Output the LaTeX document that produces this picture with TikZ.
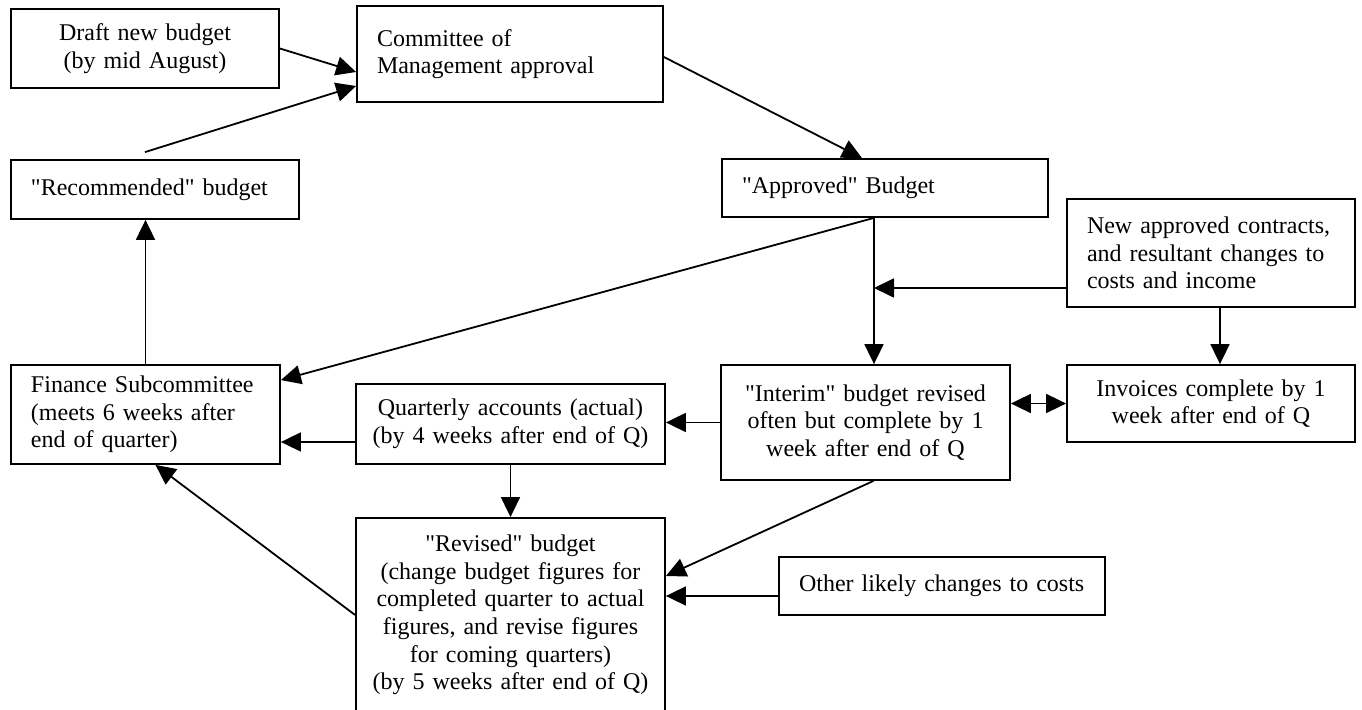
\documentclass[tikz,border=0pt]{standalone}
\usepackage{fontspec}
\setmainfont{Liberation Serif}
\usetikzlibrary{arrows.meta,calc}

\begin{document}
\begin{tikzpicture}[x=0.5pt, y=-0.5pt,
        box/.style={draw, line width=0.9pt, inner ysep=2pt, font=\fontsize{12pt}{13.8pt}\selectfont},
        cbox/.style={box, inner xsep=0pt, align=center},
        lbox/.style={box, inner xsep=10pt, align=left},
        arr/.style={-{Triangle[length=10pt, width=9.5pt]}, line width=0.9pt},
        dbl/.style={{Triangle[length=10pt, width=9.5pt]}-{Triangle[length=10pt, width=9.5pt]}, line width=0.9pt}]
        \useasboundingbox (0,0) rectangle (1362,710);

        % Nodes
        \node (draft) [cbox, text width=134pt, minimum height=39.5pt] at (145, 48.5) {Draft new budget\\(by mid August)};
        \node (comm) [lbox, text width=133pt, minimum height=48pt] at (510, 54) {Committee of\\Management approval};
        \node (rec) [lbox, text width=124pt, minimum height=29.5pt] at (155, 189.5) {\textquotedbl Recommended\textquotedbl\ budget};
        \node (appr) [lbox, text width=143pt, minimum height=29pt] at (885, 188) {\textquotedbl Approved\textquotedbl\ Budget};
        \node (newc) [lbox, text width=124pt, minimum height=54pt] at (1211, 253) {\mbox{New approved contracts,}\\\mbox{and resultant changes to}\\costs and income};
        \node (fin) [lbox, text width=114.5pt, minimum height=49.5pt] at (145.5, 414.5) {\mbox{Finance Subcommittee}\\(meets 6 weeks after\\end of quarter)};
        \node (quart) [cbox, text width=154.5pt, minimum height=40pt] at (510.5, 424) {Quarterly accounts (actual)\\(by 4 weeks after end of Q)};
        \node (inter) [cbox, text width=144.5pt, minimum height=57.5pt] at (865.5, 422.5) {\textquotedbl Interim\textquotedbl\ budget revised\\often but complete by 1\\week after end of Q};
        \node (inv) [cbox, text width=144pt, minimum height=38.5pt] at (1211, 403.5) {Invoices complete by 1\\week after end of Q};
        \node (rev) [cbox, text width=154.5pt, minimum height=97pt] at (510.5, 615) {\textquotedbl Revised\textquotedbl\ budget\\(change budget figures for\\completed quarter to actual\\figures, and revise figures\\for coming quarters)\\(by 5 weeks after end of Q)};
        \node (other) [lbox, text width=143pt, minimum height=29pt] at (942, 586) {\mbox{Other likely changes to costs}};

        % Helper points
        \coordinate (split) at ($(appr.south)+(-11,0)$);  % where the approved budget splits
        \coordinate (newin) at ($(newc.west)+(0,35)$);

        % Edges
        \draw[arr] (draft.east) -- ($(comm.west)+(0,18)$);
        \draw[arr] ($(rec.north)+(-10,-7)$) -- ($(comm.west)+(0,32)$);
        \draw[arr] ($(comm.east)+(0,3)$) -- ($(appr.north)+(-23,0)$);
        \draw[arr] (fin.north) -- (fin.north |- rec.south);
        \draw[arr] (split) -- (split |- inter.north);
        \draw[arr] (newin) -- (newin -| split);
        \draw[arr] ($(newc.south)+(9,0)$) -- ($(inv.north)+(9,0)$);
        \draw[arr] (split) -- ($(fin.north east)+(0,16)$);  % approved budget back to the subcommittee
        \draw[arr] (inter.west) -- (inter.west -| quart.east);
        \draw[arr] ($(quart.west)+(0,18)$) coordinate (qout) -- (qout -| fin.east);
        \draw[dbl] (inv.west) -- (inv.west -| inter.east);
        \draw[arr] (quart.south) -- (rev.north);
        \draw[arr] ($(inter.south)+(8,0)$) -- ($(rev.east)+(0,-39)$);
        \draw[arr] ($(other.west)+(0,10)$) coordinate (oout) -- (oout -| rev.east);
        \draw[arr] (rev.west) -- ($(fin.south)+(10,0)$);
    \end{tikzpicture}
\end{document}
